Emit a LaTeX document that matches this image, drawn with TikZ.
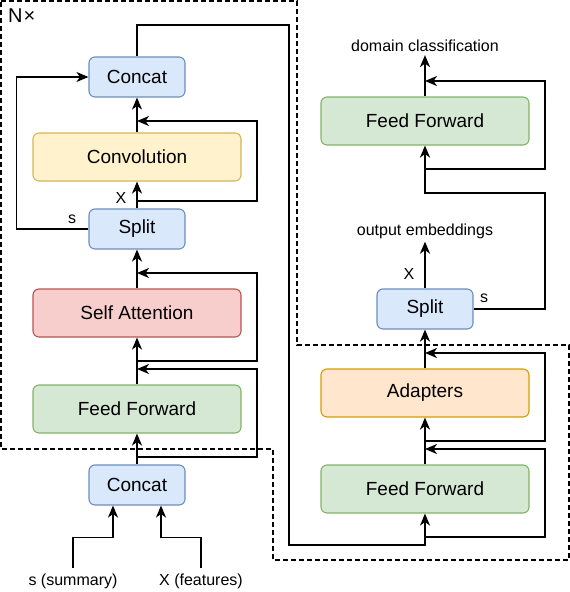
\documentclass[tikz,border=0pt]{standalone}
\usepackage{fontspec}
\setmainfont{Liberation Sans}
\usetikzlibrary{arrows.meta}
\usetikzlibrary{positioning}
\definecolor{bluefill}{HTML}{DAE8FC}\definecolor{bluedraw}{HTML}{6C8EBF}
\definecolor{yellowfill}{HTML}{FFF2CC}\definecolor{yellowdraw}{HTML}{D6B656}
\definecolor{redfill}{HTML}{F8CECC}\definecolor{reddraw}{HTML}{B85450}
\definecolor{greenfill}{HTML}{D5E8D4}\definecolor{greendraw}{HTML}{82B366}
\definecolor{orangefill}{HTML}{FFE6CC}\definecolor{orangedraw}{HTML}{D79B00}
\tikzset{
    >={Stealth[length=12pt,width=10pt,inset=3.5pt]},
    block/.style={draw, rounded corners=6pt, line width=1.1pt, inner sep=0pt,
        font=\fontsize{19}{22}\selectfont},
    smallblock/.style={block, minimum width=96pt, minimum height=40pt,
        fill=bluefill, draw=bluedraw},
    wideblock/.style={block, minimum width=208pt, minimum height=48pt},
    label/.style={inner sep=3pt, font=\fontsize{16}{18}\selectfont},
    link/.style={->, draw=black, line width=1.4pt},
    linkbold/.style={->, draw=black, line width=2pt},
    frame/.style={draw=black, line width=1.1pt, dash pattern=on 5pt off 3pt},
}
\begin{document}
\begin{tikzpicture}[x=1pt, y=-1pt]
\useasboundingbox (0,0) rectangle (570,592);
% encoder stack (left)
\node[smallblock] (concatT) at (137,77) {Concat};
\node[wideblock, fill=yellowfill, draw=yellowdraw] (conv) at (137,157) {Convolution};
\node[smallblock] (splitL) at (137,229) {Split};
\node[wideblock, fill=redfill, draw=reddraw] (selfatt) at (137,313) {Self Attention};
\node[wideblock, fill=greenfill, draw=greendraw] (ffL) at (137,409) {Feed Forward};
\node[smallblock] (concatB) at (137,485) {Concat};
\node[label] (summary) at (73,581) {s (summary)};
\node[label] (features) at (201,581) {X (features)};
\node[label] at (121,198) {X};
\node[label] at (72,219) {s};
% head (right)
\node[wideblock, fill=greenfill, draw=greendraw] (ffTop) at (425,121) {Feed Forward};
\node[smallblock] (splitR) at (425,309) {Split};
\node[wideblock, fill=orangefill, draw=orangedraw] (adapt) at (425,393) {Adapters};
\node[wideblock, fill=greenfill, draw=greendraw] (ffR) at (425,489) {Feed Forward};
\node[label] (domain) at (425,46) {domain classification};
\node[label] (outemb) at (425,231) {output embeddings};
\node[label] at (409,274) {X};
\node[label] at (484,298) {s};
% repeat frame
\draw[frame] (1,1) -- (297,1) -- (297,345) -- (569,345) -- (569,560)
    -- (273,560) -- (273,449) -- (1,449) -- cycle;
\node[anchor=base west, inner sep=0pt] (nx) at (8,22)
    {\fontsize{20}{22}\selectfont N\kern1pt ×};
% inputs
\coordinate (sIn) at (73,568);
\coordinate (xIn) at (201,568);
\draw[link] (sIn) |- ([xshift=-24pt,yshift=-32pt]concatB.south) -- ([xshift=-24pt]concatB.south);
\draw[link] (xIn) |- ([xshift=24pt,yshift=-32pt]concatB.south) -- ([xshift=24pt]concatB.south);
% left connectors
\coordinate (b1) at (137,457); \coordinate (j1) at (137,369);
\coordinate (b2) at (137,361); \coordinate (j2) at (137,273);
\coordinate (b3) at (137,201); \coordinate (j3) at (137,121);
\draw[link] (concatB) -- (ffL);
\draw[link] (b1) -- ++(120,0) |- (j1);
\draw[link] (ffL) -- (selfatt);
\draw[link] (b2) -- ++(120,0) |- (j2);
\draw[link] (selfatt) -- (splitL);
\draw[link] (splitL) -- (conv);
\draw[link] (b3) -- ++(120,0) |- (j3);
\draw[link] (conv) -- (concatT);
\draw[link] (splitL.west) -- ++(-72,0) |- (concatT.west);
\coordinate (t1) at (289,25); \coordinate (b4) at (425,545);
\draw[link] (concatT.north) |- (t1) |- (b4) -- (ffR.south);
% right connectors
\coordinate (b5) at (425,537); \coordinate (j5) at (425,449);
\coordinate (b6) at (425,441); \coordinate (j6) at (425,353);
\coordinate (r1) at (545,193);
\coordinate (b8) at (425,169); \coordinate (j8) at (425,81);
\draw[linkbold] (b5) -- ++(120,0) |- (j5);
\draw[linkbold] (ffR) -- (adapt);
\draw[linkbold] (b6) -- ++(120,0) |- (j6);
\draw[linkbold] (adapt) -- (splitR);
\draw[linkbold] (splitR) -- (outemb);
\draw[linkbold] (splitR.east) -| (r1) -| (ffTop.south);
\draw[linkbold] (b8) -- ++(120,0) |- (j8);
\draw[linkbold] (ffTop) -- (domain);
\end{tikzpicture}
\end{document}
